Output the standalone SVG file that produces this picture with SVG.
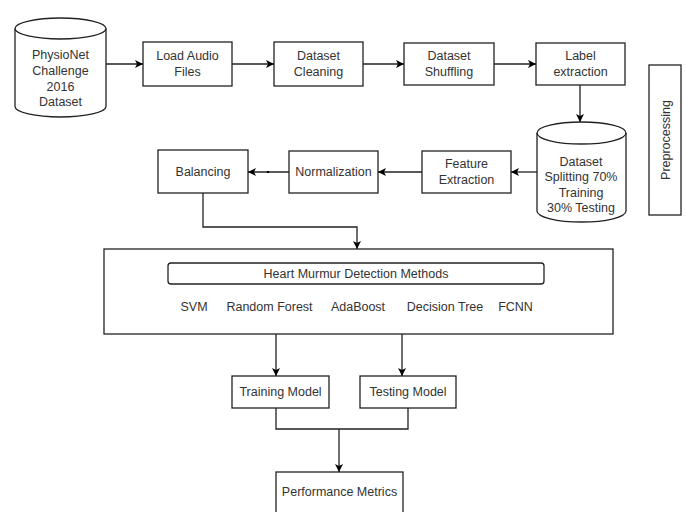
<svg xmlns="http://www.w3.org/2000/svg" width="686" height="512" viewBox="0 0 686 512">
<defs>
<marker id="arr" markerWidth="10" markerHeight="10" refX="8" refY="4" orient="auto" markerUnits="userSpaceOnUse">
<path d="M0,0 L8,4 L0,8 L2,4 Z" fill="#000"/>
</marker>
<style>
.box{fill:#fff;stroke:#222;stroke-width:1.3}
.t{font-family:"Liberation Sans",Arial,sans-serif;font-size:12.5px;fill:#333;text-anchor:middle}
.c{fill:none;stroke:#222;stroke-width:1.3}
.a{fill:none;stroke:#222;stroke-width:1.3;marker-end:url(#arr)}
</style>
</defs>
<rect width="686" height="512" fill="#fff"/>

<g id="physionet">
<path class="box" d="M15,28.5 A45.5,10.5 0 0 1 106,28.5 L106,106.5 A45.5,10.5 0 0 1 15,106.5 Z"/>
<path class="c" d="M15,28.5 A45.5,10.5 0 0 0 106,28.5"/>
<text class="t" x="60.5" y="59">PhysioNet</text>
<text class="t" x="60.5" y="75">Challenge</text>
<text class="t" x="60.5" y="91">2016</text>
<text class="t" x="60.5" y="106">Dataset</text>
</g>

<g id="load">
<rect class="box" x="143" y="42" width="89" height="44"/>
<text class="t" x="187.5" y="60">Load Audio</text>
<text class="t" x="187.5" y="76">Files</text>
</g>

<g id="cleaning">
<rect class="box" x="274" y="42" width="89" height="44"/>
<text class="t" x="318.5" y="60">Dataset</text>
<text class="t" x="318.5" y="76">Cleaning</text>
</g>

<g id="shuffling">
<rect class="box" x="404" y="43" width="90" height="42"/>
<text class="t" x="449" y="60">Dataset</text>
<text class="t" x="449" y="76">Shuffling</text>
</g>

<g id="label">
<rect class="box" x="536" y="43" width="89" height="42"/>
<text class="t" x="580.5" y="60">Label</text>
<text class="t" x="580.5" y="76">extraction</text>
</g>

<g id="splitting">
<path class="box" d="M537,133 A44.5,11 0 0 1 626,133 L626,211 A44.5,11 0 0 1 537,211 Z"/>
<path class="c" d="M537,133 A44.5,11 0 0 0 626,133"/>
<text class="t" x="581" y="166">Dataset</text>
<text class="t" x="581" y="181">Splitting 70%</text>
<text class="t" x="581" y="197">Training</text>
<text class="t" x="581" y="212">30% Testing</text>
</g>

<g id="preprocessing">
<rect class="box" x="649" y="65" width="32" height="150"/>
<text class="t" transform="translate(669.5,140) rotate(-90)" x="0" y="0">Preprocessing</text>
</g>

<g id="feature">
<rect class="box" x="422" y="151" width="89" height="42"/>
<text class="t" x="466.5" y="168">Feature</text>
<text class="t" x="466.5" y="184">Extraction</text>
</g>

<g id="normalization">
<rect class="box" x="289" y="151" width="89" height="42"/>
<text class="t" x="333.5" y="176">Normalization</text>
</g>

<g id="balancing">
<rect class="box" x="158" y="150" width="90" height="43"/>
<text class="t" x="203" y="176">Balancing</text>
</g>

<g id="methods">
<rect class="box" x="104" y="249" width="509" height="85"/>
<rect class="box" x="168" y="263" width="376" height="21" rx="3"/>
<text class="t" x="356" y="278">Heart Murmur Detection Methods</text>
<text class="t" x="194" y="311">SVM</text>
<text class="t" x="269.5" y="311">Random Forest</text>
<text class="t" x="358" y="311">AdaBoost</text>
<text class="t" x="445" y="311">Decision Tree</text>
<text class="t" x="515.5" y="311">FCNN</text>
</g>

<g id="training">
<rect class="box" x="232" y="376" width="97" height="32"/>
<text class="t" x="280.5" y="396">Training Model</text>
</g>

<g id="testing">
<rect class="box" x="360" y="376" width="96" height="32"/>
<text class="t" x="408" y="396">Testing Model</text>
</g>

<g id="performance">
<rect class="box" x="276" y="472" width="127" height="50"/>
<text class="t" x="339.5" y="496">Performance Metrics</text>
</g>

<g id="connectors">
<path class="a" d="M106,64 L143,64"/>
<path class="a" d="M232,64 L274,64"/>
<path class="a" d="M363,64 L404,64"/>
<path class="a" d="M494,64 L536,64"/>
<path class="a" d="M580,85 L580,122"/>
<path class="a" d="M537,172 L511,172"/>
<path class="a" d="M422,172 L378,172"/>
<path class="a" d="M289,172 L248,172"/>
<rect x="267" y="171" width="2" height="2" fill="#000"/>
<path class="a" d="M203,193 L203,227 L357,227 L357,249"/>
<path class="a" d="M276,334 L276,376"/>
<path class="a" d="M402,334 L402,376"/>
<path class="c" d="M276,408 L276,429 L408,429 L408,408"/>
<path class="a" d="M339,429 L339,472"/>
</g>
</svg>
